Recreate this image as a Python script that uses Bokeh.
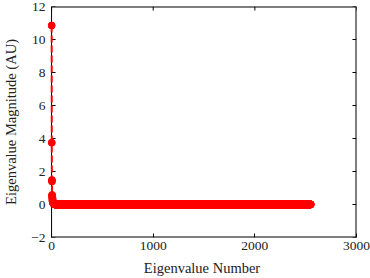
import math
from bokeh.plotting import figure
from bokeh.models import Range1d, FixedTicker, ColumnDataSource
from bokeh.embed import file_html
from bokeh.resources import INLINE

# ---- data ----
n_eigen = 2550
head_values = [10.85, 3.75, 1.48, 1.40, 0.58, 0.52, 0.45, 0.38, 0.30, 0.25,
               0.21, 0.18, 0.15, 0.13, 0.11, 0.10, 0.09, 0.08, 0.07, 0.06,
               0.05, 0.045, 0.04, 0.035, 0.03, 0.025, 0.02, 0.02, 0.015, 0.015,
               0.01, 0.01]
tail_value = 0.005
x_ticks = [0, 1000, 2000, 3000]
y_ticks = [-2, 0, 2, 4, 6, 8, 10, 12]
x_title = "Eigenvalue Number"
y_title = "Eigenvalue Magnitude (AU)"

eig_number = list(range(1, n_eigen + 1))
eig_values = head_values + [tail_value] * (n_eigen - len(head_values))
src = ColumnDataSource(dict(x=eig_number, y=eig_values))

FONT = "Liberation Serif"
TXT = "#222222"
x0, x1 = x_ticks[0], x_ticks[-1]
y0, y1 = y_ticks[0], y_ticks[-1]
x_pad = 40  # small room so markers on the y axis are not clipped

p = figure(width=370, height=278, output_backend="svg", toolbar_location=None,
           x_range=Range1d(x0 - x_pad, x1), y_range=Range1d(y0, y1),
           min_border_top=6, min_border_right=14, min_border_left=0, min_border_bottom=0)
p.grid.visible = False
p.outline_line_color = None
p.background_fill_color = "white"
p.border_fill_color = "white"

# axes box
p.segment(x0=[x0, x0], y0=[y0, y1], x1=[x1, x1], y1=[y0, y1], line_color="black", line_width=2)
p.segment(x0=[x1], y0=[y0], x1=[x1], y1=[y1], line_color="black", line_width=2)
p.segment(x0=[x0], y0=[y0], x1=[x0], y1=[y1], line_color="black", line_width=1)
# inward ticks on top, left, right
p.ray(x=x_ticks, y=[y1] * len(x_ticks), length=4, length_units="screen",
      angle=-math.pi / 2, line_color="black", line_width=1)
p.ray(x=[x0] * len(y_ticks), y=y_ticks, length=4, length_units="screen",
      angle=0, line_color="black", line_width=1)
p.ray(x=[x1] * len(y_ticks), y=y_ticks, length=4, length_units="screen",
      angle=math.pi, line_color="black", line_width=1)

p.line("x", "y", source=src, line_color="#ff0000", line_width=2, line_dash="7 3")
p.scatter("x", "y", source=src, size=7, fill_color="#ff0000", line_color="#ff0000")

for ax in (p.xaxis[0], p.yaxis[0]):
    ax.minor_tick_line_color = None
    ax.axis_line_color = None
    ax.major_label_text_font = FONT
    ax.major_label_text_font_size = "13.5px"
    ax.major_label_text_color = TXT
    ax.axis_label_text_font = FONT
    ax.axis_label_text_font_size = "14.5px"
    ax.axis_label_text_font_style = "normal"
    ax.axis_label_text_color = TXT

p.xaxis[0].ticker = FixedTicker(ticks=x_ticks)
p.yaxis[0].ticker = FixedTicker(ticks=y_ticks)
p.xaxis[0].major_tick_in = 4
p.xaxis[0].major_tick_out = 0
p.xaxis[0].major_tick_line_color = "black"
p.yaxis[0].major_tick_line_color = None
p.yaxis[0].major_tick_in = 0
p.yaxis[0].major_tick_out = 0
p.xaxis[0].axis_label = x_title
p.yaxis[0].axis_label = y_title
p.xaxis[0].major_label_standoff = 4
p.xaxis[0].axis_label_standoff = 7
p.yaxis[0].major_label_standoff = 2
p.yaxis[0].axis_label_standoff = 9

open("out.html", "w").write(file_html(p, INLINE))
